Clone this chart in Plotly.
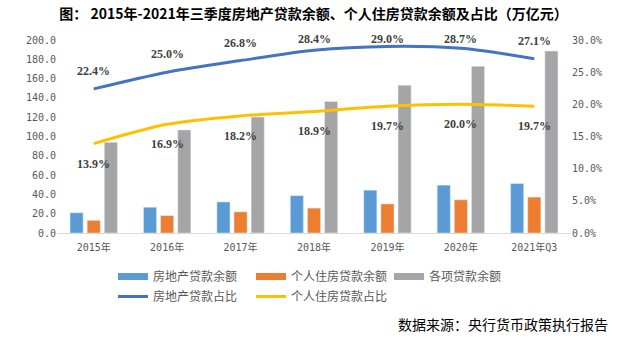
import plotly.graph_objects as go

categories = ["2015年", "2016年", "2017年", "2018年", "2019年", "2020年", "2021年Q3"]
real_estate_loans = [21.0, 26.7, 32.2, 38.7, 44.4, 49.6, 51.2]
housing_loans = [13.1, 18.0, 21.9, 25.8, 30.1, 34.4, 37.2]
total_loans = [94.0, 106.8, 120.1, 136.3, 153.1, 172.7, 188.5]
real_estate_share = [22.4, 25.0, 26.8, 28.4, 29.0, 28.7, 27.1]
housing_share = [13.9, 16.9, 18.2, 18.9, 19.7, 20.0, 19.7]

C_BLUE = "#5B9BD5"
C_ORANGE = "#ED7D31"
C_GRAY = "#A5A5A5"
C_LBLUE = "#4472C4"
C_YELLOW = "#FFC000"

W, H = 627, 342
L, R, T, B = 57, 56, 40, 109
pw, ph = W - L - R, H - T - B
Y2MAX = 30.0


def px(x):
    return (x - L) / pw


def py(y):
    return (H - B - y) / ph


tick_font = dict(family="DejaVu Sans Mono, Noto Sans CJK SC", size=10, color="#595959")
leg_font = dict(family="Noto Sans CJK SC", size=12, color="#595959")
lbl_font = dict(family="Liberation Serif", size=12, color="#404040", weight="bold")

fig = go.Figure()
bars = [("房地产贷款余额", real_estate_loans, C_BLUE, "b1"),
        ("个人住房贷款余额", housing_loans, C_ORANGE, "b2"),
        ("各项贷款余额", total_loans, C_GRAY, "b3")]
for name, vals, col, grp in bars:
    fig.add_trace(go.Bar(x=categories, y=vals, name=name, marker_color=col,
                         showlegend=False, legendgroup=grp, yaxis="y"))
    # legend swatch (wide rectangle like the reference)
    fig.add_trace(go.Scatter(x=[None], y=[None], mode="lines", name=name,
                             line=dict(color=col, width=7), legendgroup=grp,
                             legend="legend", yaxis="y"))

lines = [("房地产贷款占比", real_estate_share, C_LBLUE),
         ("个人住房贷款占比", housing_share, C_YELLOW)]
for name, vals, col in lines:
    fig.add_trace(go.Scatter(x=categories, y=vals, name=name, mode="lines",
                             line=dict(color=col, width=3, shape="spline", smoothing=0.8),
                             yaxis="y2", legend="legend2"))

annotations = []
for c, v in zip(categories, real_estate_share):
    # label sits above the point but is kept inside the plot area (as Excel does)
    point_px = v / Y2MAX * ph
    shift = min(18, (ph + 1) - point_px)
    annotations.append(dict(x=c, y=v, xref="x", yref="y2", text=f"{v:.1f}%",
                            showarrow=False, yshift=shift, font=lbl_font))
for c, v in zip(categories, housing_share):
    annotations.append(dict(x=c, y=v, xref="x", yref="y2", text=f"{v:.1f}%",
                            showarrow=False, yshift=-20, font=lbl_font))
annotations.append(dict(x=px(610), y=py(324), xref="paper", yref="paper",
                        text="数据来源：央行货币政策执行报告",
                        showarrow=False, xanchor="right", yanchor="middle",
                        font=dict(family="Noto Sans CJK SC", size=14, color="#000000")))

fig.update_layout(
    width=W, height=H,
    margin=dict(l=L, r=R, t=T, b=B),
    paper_bgcolor="white", plot_bgcolor="white",
    barmode="group", bargap=0.30, bargroupgap=0.235,
    title=dict(text="图： 2015年-2021年三季度房地产贷款余额、个人住房贷款余额及占比（万亿元）",
               x=0.5, xanchor="center", y=1 - 14 / H, yanchor="middle",
               font=dict(family="Noto Sans CJK SC", size=14, color="#000000", weight="bold")),
    xaxis=dict(type="category", showgrid=False, showline=True, linecolor="#D9D9D9", linewidth=1,
               ticks="", tickfont=tick_font, ticklabelstandoff=5),
    yaxis=dict(range=[0, 200], dtick=20, tickformat=".1f", showgrid=False, zeroline=False,
               showline=False, ticks="", tickfont=tick_font),
    yaxis2=dict(range=[0, Y2MAX], dtick=5, tickformat=".1f", ticksuffix="%", overlaying="y",
                side="right", showgrid=False, zeroline=False, showline=False, ticks="",
                tickfont=tick_font),
    legend=dict(orientation="h", x=px(113), xanchor="left", y=py(262), yanchor="top",
                entrywidth=93, entrywidthmode="pixels", font=leg_font, bgcolor="rgba(0,0,0,0)",
                tracegroupgap=0),
    legend2=dict(orientation="h", x=px(113), xanchor="left", y=py(282), yanchor="top",
                 entrywidth=93, entrywidthmode="pixels", font=leg_font, bgcolor="rgba(0,0,0,0)",
                 tracegroupgap=0),
    annotations=annotations,
    showlegend=True,
)

fig.write_html("out.html")
